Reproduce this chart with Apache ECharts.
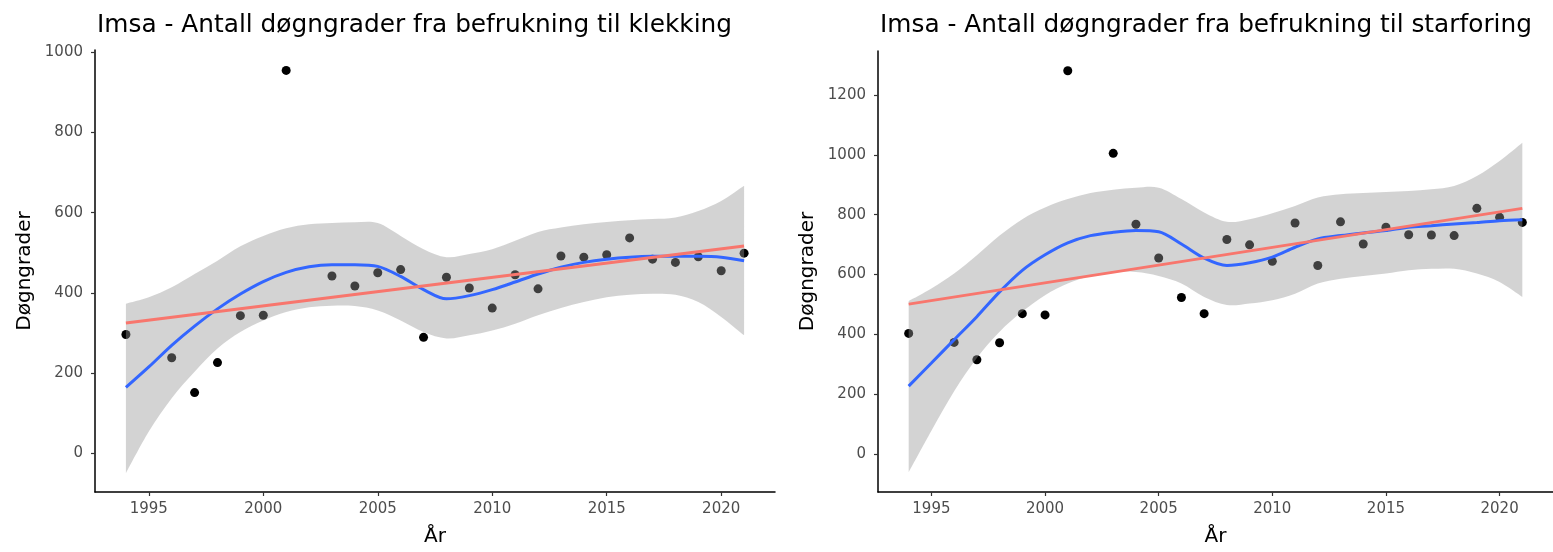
<!DOCTYPE html>
<html>
<head>
<meta charset="utf-8">
<script src="https://cdn.jsdelivr.net/npm/echarts@6/dist/echarts.min.js"></script>
<style>
html,body{margin:0;padding:0;background:#fff;}
#chart{width:1553px;height:552px;}
</style>
</head>
<body>
<div id="chart"></div>
<script>
// ---- Data ----
const titleLeft = 'Imsa - Antall døgngrader fra befrukning til klekking';
const titleRight = 'Imsa - Antall døgngrader fra befrukning til starforing';
const yName = 'Døgngrader';
const xName = 'År';

const xTicks = [1995, 2000, 2005, 2010, 2015, 2020];
const yTicksLeft = [0, 200, 400, 600, 800, 1000];
const yTicksRight = [0, 200, 400, 600, 800, 1000, 1200];

const pointYears = [1994,1996,1997,1998,1999,2000,2001,2003,2004,2005,2006,2007,2008,2009,2010,2011,2012,2013,2014,2015,2016,2017,2018,2019,2020,2021];
const klekking = [296,238,151,226,343,344,955,442,417,450,458,289,439,412,362,445,410,492,489,495,537,484,476,490,455,499];
const starforing = [403,373,315,372,469,465,1281,1005,768,655,523,469,717,699,644,772,630,776,702,758,733,732,730,821,791,774];

const fitYears = [1994,1995,1996,1997,1998,1999,2000,2001,2002,2003,2004,2005,2006,2007,2008,2009,2010,2011,2012,2013,2014,2015,2016,2017,2018,2019,2020,2021];
const loessLeft = [164,215,269,317,360,397,428,451,465,470,470,466,441,408,385,393,408,427,447,464,476,484,489,491,491,491,489,480];
const lowerLeft = [-50,54,137,203,261,302,331,352,364,368,367,356,331,302,286,294,306,323,344,362,377,389,395,398,395,377,340,294];
const upperLeft = [373,389,414,447,480,516,542,561,571,574,576,574,542,509,489,497,509,530,552,563,571,577,581,584,588,604,629,667];

const loessRight = [227,304,382,459,542,614,666,706,730,741,747,743,702,655,630,639,658,691,719,730,739,747,758,763,769,774,780,783];
const lowerRight = [-61,78,210,321,409,476,531,570,595,608,608,595,570,525,498,503,514,536,570,586,595,603,614,619,619,603,575,525];
const upperRight = [511,553,603,664,730,785,824,852,872,883,890,890,852,807,776,785,805,829,857,868,872,876,879,885,896,929,979,1040];

const lmYears = [1994, 2021];
const lmLeft = [325, 517];
const lmRight = [501, 821];

// ---- Build options ----
const FONT = 'DejaVu Sans';
const pairs = (xs, ys) => xs.map((x, i) => [x, ys[i]]);

// Smooth SVG path segment through pixel points (Catmull-Rom -> cubic Bezier)
function curveThrough(pts) {
  let d = '';
  for (let i = 0; i < pts.length - 1; i++) {
    const p0 = pts[Math.max(i - 1, 0)], p1 = pts[i], p2 = pts[i + 1], p3 = pts[Math.min(i + 2, pts.length - 1)];
    const c1 = [p1[0] + (p2[0] - p0[0]) / 6, p1[1] + (p2[1] - p0[1]) / 6];
    const c2 = [p2[0] - (p3[0] - p1[0]) / 6, p2[1] - (p3[1] - p1[1]) / 6];
    d += ' C' + c1[0] + ',' + c1[1] + ' ' + c2[0] + ',' + c2[1] + ' ' + p2[0] + ',' + p2[1];
  }
  return d;
}

function xAxisCfg(gridIndex) {
  return {
    type: 'value', gridIndex, min: 1992.65, max: 2022.35,
    name: xName, nameLocation: 'middle', nameGap: 35,
    nameTextStyle: {fontFamily: FONT, fontSize: 20, color: '#000'},
    axisLine: {show: true, onZero: false, lineStyle: {color: '#000', width: 1.5}},
    axisTick: {show: true, length: 4, customValues: xTicks, lineStyle: {color: '#333', width: 1.2}},
    axisLabel: {customValues: xTicks, formatter: v => String(v), margin: 10,
      fontFamily: FONT, fontSize: 15, color: '#4d4d4d'},
    splitLine: {show: false}
  };
}
function yAxisCfg(gridIndex, min, max, ticks) {
  return {
    type: 'value', gridIndex, min, max,
    name: yName, nameLocation: 'middle', nameGap: 60,
    nameTextStyle: {fontFamily: FONT, fontSize: 20, color: '#000'},
    axisLine: {show: true, onZero: false, lineStyle: {color: '#000', width: 1.5}},
    axisTick: {show: true, length: 4, customValues: ticks, lineStyle: {color: '#333', width: 1.2}},
    axisLabel: {customValues: ticks, formatter: v => String(v), margin: 12,
      fontFamily: FONT, fontSize: 15, color: '#4d4d4d'},
    splitLine: {show: false}
  };
}
function panelSeries(idx, ptsY, loess, lower, upper, lm) {
  return [
    {type: 'scatter', xAxisIndex: idx, yAxisIndex: idx, data: pairs(pointYears, ptsY),
     symbol: 'circle', symbolSize: 9, itemStyle: {color: '#000', opacity: 1}, z: 2, silent: true},
    {type: 'custom', xAxisIndex: idx, yAxisIndex: idx, z: 3, silent: true, clip: true,
     data: fitYears.map((x, i) => [x, lower[i], upper[i]]),
     encode: {x: 0, y: [1, 2]},
     renderItem: function (params, api) {
       if (params.dataIndex !== 0) return null;
       const lo = fitYears.map((x, i) => api.coord([x, lower[i]]));
       const up = fitYears.map((x, i) => api.coord([x, upper[i]])).reverse();
       const d = 'M' + lo[0][0] + ',' + lo[0][1] + curveThrough(lo) +
                 ' L' + up[0][0] + ',' + up[0][1] + curveThrough(up) + ' Z';
       return {type: 'path', shape: {pathData: d}, style: {fill: 'rgba(150,150,150,0.42)'}};
     }},
    {type: 'line', xAxisIndex: idx, yAxisIndex: idx, data: pairs(fitYears, loess),
     smooth: 0.3, showSymbol: false, lineStyle: {color: '#3366FF', width: 3}, z: 4, silent: true},
    {type: 'line', xAxisIndex: idx, yAxisIndex: idx, data: pairs(lmYears, lm),
     showSymbol: false, lineStyle: {color: '#F8766D', width: 3}, z: 5, silent: true}
  ];
}

const option = {
  animation: false,
  backgroundColor: '#fff',
  title: [
    {text: titleLeft, left: 92, top: 8, textStyle: {fontFamily: FONT, fontSize: 24.8, fontWeight: 'normal', color: '#000'}},
    {text: titleRight, left: 875, top: 8, textStyle: {fontFamily: FONT, fontSize: 24.8, fontWeight: 'normal', color: '#000'}}
  ],
  grid: [
    {left: 95, top: 50, width: 680, height: 444, containLabel: false},
    {left: 878, top: 51, width: 680, height: 444, containLabel: false}
  ],
  xAxis: [xAxisCfg(0), xAxisCfg(1)],
  yAxis: [yAxisCfg(0, -97, 1006, yTicksLeft), yAxisCfg(1, -127, 1347, yTicksRight)],
  series: [
    ...panelSeries(0, klekking, loessLeft, lowerLeft, upperLeft, lmLeft),
    ...panelSeries(1, starforing, loessRight, lowerRight, upperRight, lmRight)
  ]
};

const chart = echarts.init(document.getElementById('chart'), null, {renderer: 'canvas'});
chart.setOption(option);
</script>
</body>
</html>
